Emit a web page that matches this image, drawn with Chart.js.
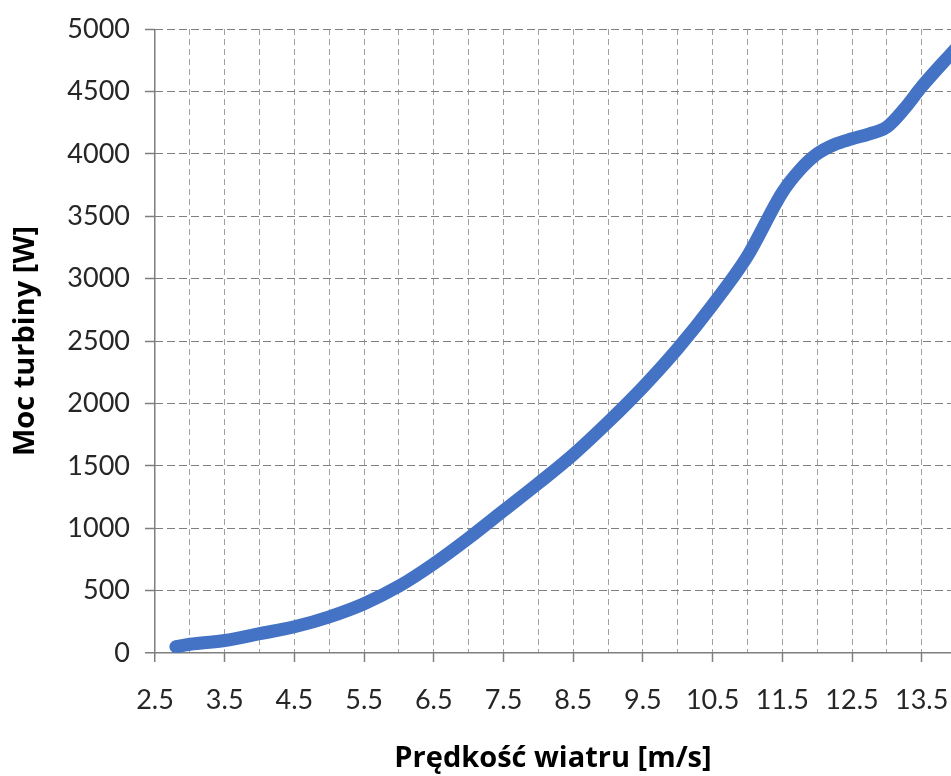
<!DOCTYPE html>
<html>
<head>
<meta charset="utf-8">
<script src="https://cdn.jsdelivr.net/npm/chart.js@4"></script>
<style>
  html, body { margin: 0; padding: 0; background: #fff; }
  #wrap { width: 951px; height: 776px; }
</style>
</head>
<body>
<div id="wrap"><canvas id="c" width="951" height="776"></canvas></div>
<script>
// ---- data ----
const windSpeed = [2.8, 3.0, 3.5, 4.0, 4.5, 5.0, 5.5, 6.0, 6.5, 7.0, 7.5, 8.0, 8.5, 9.0, 9.5, 10.0, 10.5, 11.0, 11.5, 11.75, 12.0, 12.25, 12.5, 12.75, 13.0, 13.25, 13.5, 14.0];
const turbinePower = [50, 70, 100, 155, 210, 290, 395, 535, 715, 920, 1140, 1360, 1590, 1850, 2130, 2440, 2790, 3180, 3690, 3870, 4000, 4075, 4120, 4160, 4215, 4360, 4538, 4850];
const xTickLabels = ['2.5', '3.5', '4.5', '5.5', '6.5', '7.5', '8.5', '9.5', '10.5', '11.5', '12.5', '13.5'];
const xGridValues = [2.5, 3, 3.5, 4, 4.5, 5, 5.5, 6, 6.5, 7, 7.5, 8, 8.5, 9, 9.5, 10, 10.5, 11, 11.5, 12, 12.5, 13, 13.5];
const yTickLabels = ['0', '500', '1000', '1500', '2000', '2500', '3000', '3500', '4000', '4500', '5000'];
const xTitle = 'Prędkość wiatru [m/s]';
const yTitle = 'Moc turbiny [W]';

const points = windSpeed.map((x, i) => ({ x: x, y: turbinePower[i] }));
const isMajor = v => xTickLabels.includes(String(v));
const AXIS = '#7f7f7f';

new Chart(document.getElementById('c'), {
  type: 'line',
  data: {
    datasets: [{
      data: points,
      borderColor: '#4472C4',
      borderWidth: 13,
      pointRadius: 0,
      fill: false,
      cubicInterpolationMode: 'monotone',
      borderCapStyle: 'round',
      borderJoinStyle: 'round'
    }]
  },
  options: {
    responsive: false,
    animation: false,
    devicePixelRatio: 1,
    layout: { padding: { top: 29, right: 0, bottom: 0, left: 0 } },
    plugins: { legend: { display: false }, tooltip: { enabled: false } },
    scales: {
      x: {
        type: 'linear',
        min: 2.5,
        max: 13.92,
        afterBuildTicks: s => { s.ticks = xGridValues.map(v => ({ value: v })); },
        afterFit: s => { s.height = 123; s.paddingLeft = 0; s.paddingRight = 0; },
        grid: {
          color: ctx => (ctx.tick && ctx.tick.value === 2.5) ? AXIS : '#a0a0a0',
          lineWidth: ctx => (ctx.tick && ctx.tick.value === 2.5) ? 1.5 : 1,
          tickLength: 9,
          tickColor: ctx => (ctx.tick && isMajor(ctx.tick.value)) ? AXIS : 'rgba(0,0,0,0)',
          tickWidth: 1.5
        },
        border: { display: false, dash: ctx => (ctx.tick && ctx.tick.value === 2.5) ? [] : [6, 4] },
        ticks: {
          autoSkip: false,
          maxRotation: 0,
          padding: 22,
          color: '#262626',
          font: { family: 'Lato', size: 27 },
          callback: v => isMajor(v) ? xTickLabels[xTickLabels.indexOf(String(v))] : ''
        },
        title: {
          display: true,
          text: xTitle,
          color: '#000',
          font: { family: 'Open Sans', size: 29, weight: 'bold' },
          padding: { top: 0, bottom: 0 }
        }
      },
      y: {
        min: 0,
        max: 5000,
        afterBuildTicks: s => { s.ticks = yTickLabels.map(t => ({ value: Number(t) })); },
        afterFit: s => { s.width = 155; s.paddingTop = 0; s.paddingBottom = 0; },
        grid: {
          color: AXIS,
          lineWidth: ctx => (ctx.tick && ctx.tick.value === 0) ? 1.5 : 1,
          tickLength: 10,
          tickColor: AXIS,
          tickWidth: 1.5
        },
        border: { display: false, dash: ctx => (ctx.tick && ctx.tick.value === 0) ? [] : [8, 4] },
        ticks: {
          padding: 15,
          color: '#262626',
          font: { family: 'Lato', size: 27 },
          callback: (v, i) => yTickLabels[i]
        },
        title: {
          display: true,
          text: yTitle,
          color: '#000',
          font: { family: 'Open Sans', size: 29, weight: 'bold' },
          padding: { top: 8, bottom: 0 }
        }
      }
    }
  }
});
</script>
</body>
</html>
